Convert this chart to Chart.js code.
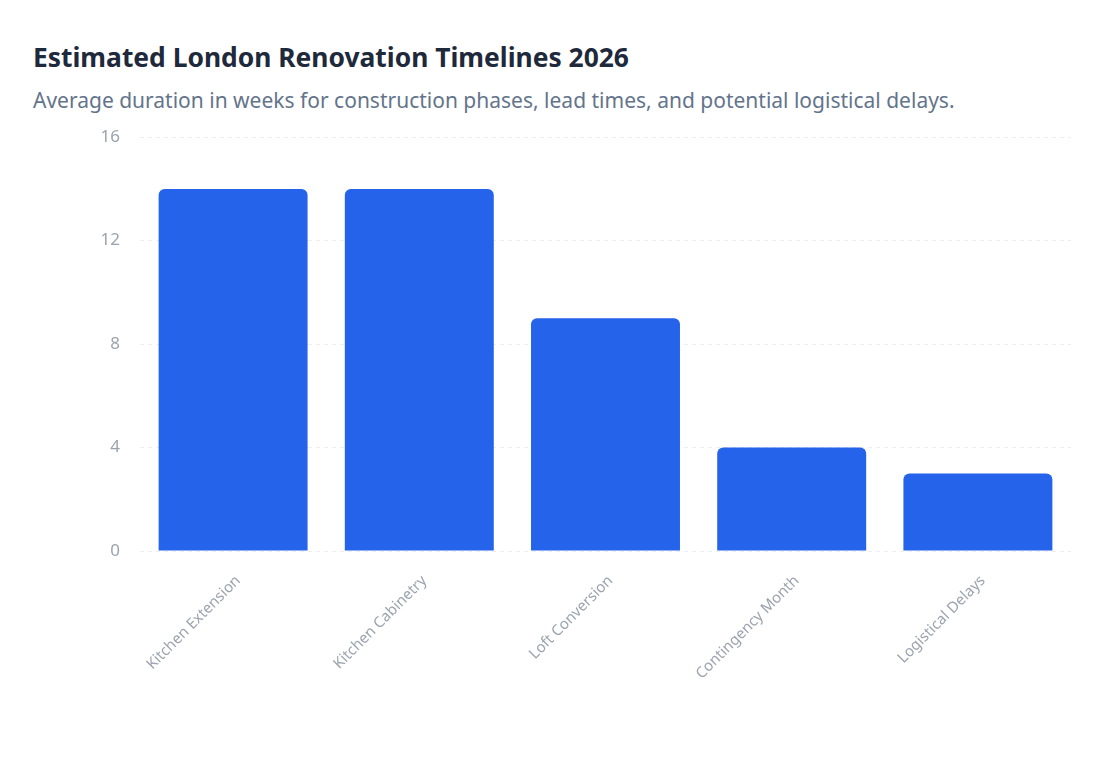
<!DOCTYPE html>
<html>
<head>
<meta charset="utf-8">
<script src="https://cdn.jsdelivr.net/npm/chart.js@4.4.1/dist/chart.umd.min.js"></script>
<style>
  html, body { margin: 0; padding: 0; background: #ffffff; }
  body { width: 1117px; height: 765px; position: relative; font-family: "Noto Sans", sans-serif; }
  h1 {
    position: absolute; left: 33px; top: 41px; margin: 0;
    font-size: 26.4px; line-height: 32px; font-weight: 700; color: #1e293b;
  }
  p.sub {
    position: absolute; left: 33px; top: 86px; margin: 0;
    font-size: 21px; line-height: 28px; color: #64748b;
  }
  .chart-wrap { position: absolute; left: 32px; top: 107px; width: 1053px; height: 620px; }
</style>
</head>
<body>
<h1>Estimated London Renovation Timelines 2026</h1>
<p class="sub">Average duration in weeks for construction phases, lead times, and potential logistical delays.</p>
<div class="chart-wrap"><canvas id="timelineChart"></canvas></div>

<script>
// Chart data
const phases = [
  "Kitchen Extension",
  "Kitchen Cabinetry",
  "Loft Conversion",
  "Contingency Month",
  "Logistical Delays",
];
const durationWeeks = [14, 14, 9, 4, 3];
const yTicks = [0, 4, 8, 12, 16];

const ctx = document.getElementById("timelineChart").getContext("2d");

new Chart(ctx, {
  type: "bar",
  data: {
    labels: phases,
    datasets: [
      {
        label: "Weeks",
        data: durationWeeks,
        backgroundColor: "#2563eb",
        borderRadius: 6,
        borderSkipped: "bottom",
        barPercentage: 0.8,
        categoryPercentage: 1.0,
      },
    ],
  },
  options: {
    responsive: true,
    maintainAspectRatio: false,
    animation: false,
    layout: { padding: { top: 12, right: 14, bottom: 0, left: 0 } },
    plugins: {
      legend: { display: false },
      tooltip: { enabled: false },
    },
    scales: {
      x: {
        grid: { display: false },
        border: { display: false },
        ticks: {
          color: "#9ca3af",
          font: { family: "Noto Sans", size: 15 },
          minRotation: 45,
          maxRotation: 45,
          padding: 13,
          labelOffset: 5,
        },
        afterFit(scale) {
          scale.height = 176;
        },
      },
      y: {
        min: yTicks[0],
        max: yTicks[yTicks.length - 1],
        afterBuildTicks(scale) {
          scale.ticks = yTicks.map((v) => ({ value: v }));
        },
        grid: { color: "#eceef1", drawTicks: false, lineWidth: 1 },
        border: { display: false, dash: [4, 4] },
        ticks: {
          color: "#9ca3af",
          font: { family: "Noto Sans", size: 17 },
          padding: 20,
        },
        afterFit(scale) {
          scale.width = 108;
        },
      },
    },
  },
});
</script>
</body>
</html>
